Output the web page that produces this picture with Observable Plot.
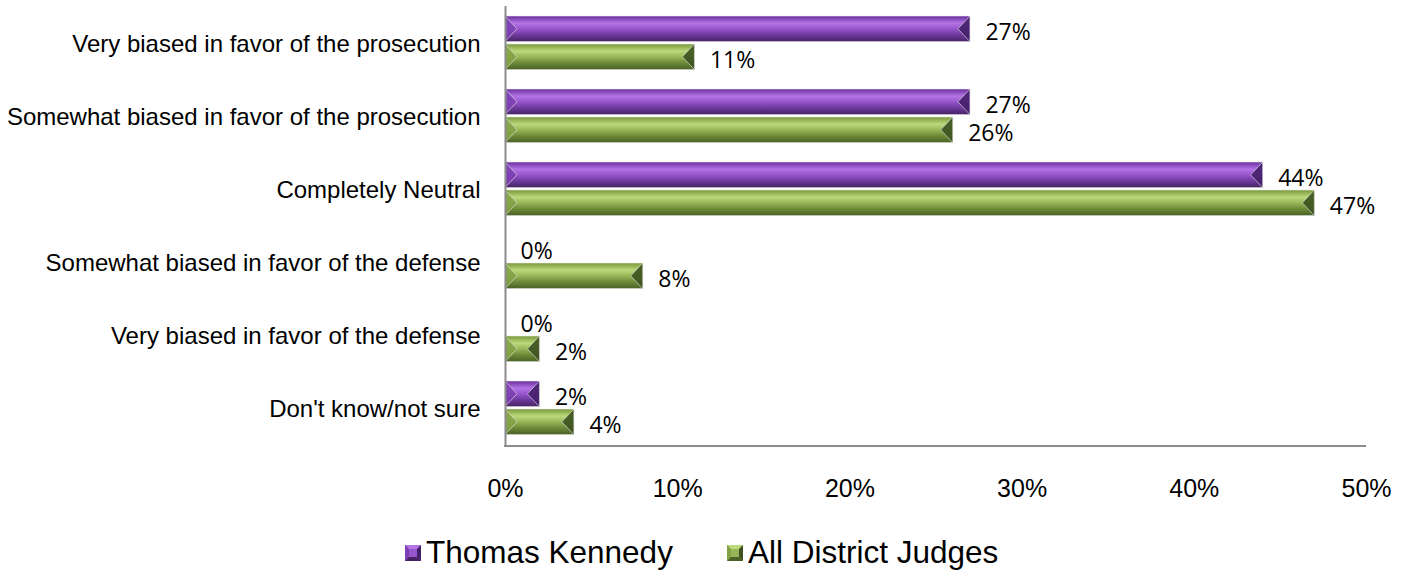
<!DOCTYPE html>
<html>
<head>
<meta charset="utf-8">
<script src="https://cdn.jsdelivr.net/npm/d3@7"></script>
<script src="https://cdn.jsdelivr.net/npm/@observablehq/plot@0.6"></script>
<style>
  html, body { margin: 0; padding: 0; background: #fff; }
  #wrap { position: relative; width: 1411px; height: 573px; overflow: hidden; }
  #legend { position: absolute; left: 405px; top: 534px; display: flex; align-items: center;
            font-family: "Liberation Sans", Arial, sans-serif; font-size: 31.5px; color: #000; white-space: nowrap; }
  #legend .item { display: flex; align-items: center; margin-right: 54px; }
  #legend svg { margin-right: 5px; }
</style>
</head>
<body>
<div id="wrap">
  <div id="chart"></div>
  <div id="legend"></div>
</div>
<script>
const categories = [
  "Very biased in favor of the prosecution",
  "Somewhat biased in favor of the prosecution",
  "Completely Neutral",
  "Somewhat biased in favor of the defense",
  "Very biased in favor of the defense",
  "Don't know/not sure"
];
const kennedy = [27, 27, 44, 0, 0, 2];
const allJudges = [11, 26, 47, 8, 2, 4];
const seriesNames = ["Thomas Kennedy", "All District Judges"];
const xTicks = [0, 10, 20, 30, 40, 50];

const palette = {
  "Thomas Kennedy": {
    grad: ["#6a2e9c", "#b474e6", "#9656cc", "#6b389a", "#462263"],
    left: "#7d40b4", right: "#44206a", id: "gP"
  },
  "All District Judges": {
    grad: ["#789838", "#bcd97c", "#98b658", "#6a8836", "#4a6026"],
    left: "#83a245", right: "#3e5320", id: "gG"
  }
};

const rows = [];
categories.forEach((c, i) => {
  rows.push({cat: c, series: seriesNames[0], value: kennedy[i]});
  rows.push({cat: c, series: seriesNames[1], value: allJudges[i]});
});

const height = 530;
const marginTop = 6;
const marginBottom = 84;
const band = (height - marginTop - marginBottom) / categories.length;

const insets = {
  "Thomas Kennedy": {top: 9, bottom: band - 35, dy: -11},
  "All District Judges": {top: 37, bottom: band - 63, dy: 17}
};

function bevelRender(series) {
  const p = palette[series];
  return function(index, scales, values, dimensions, context, next) {
    const g = next(index, scales, values, dimensions, context);
    const rects = Array.from(g.querySelectorAll("rect"));
    const ns = "http://www.w3.org/2000/svg";
    rects.forEach(r => {
      const x = +r.getAttribute("x"), y = +r.getAttribute("y");
      const w = +r.getAttribute("width"), h = +r.getAttribute("height");
      if (!(w > 1)) return;
      const b = Math.min(12, w / 2);
      const mid = y + h / 2;
      const lt = document.createElementNS(ns, "polygon");
      lt.setAttribute("points", `${x},${y} ${x + b},${mid} ${x},${y + h}`);
      lt.setAttribute("fill", p.left);
      lt.setAttribute("fill-opacity", "0.9");
      const rt = document.createElementNS(ns, "polygon");
      rt.setAttribute("points", `${x + w},${y} ${x + w - b},${mid} ${x + w},${y + h}`);
      rt.setAttribute("fill", p.right);
      rt.setAttribute("fill-opacity", "0.92");
      g.appendChild(lt);
      g.appendChild(rt);
    });
    return g;
  };
}

const marks = [];
seriesNames.forEach(s => {
  const data = rows.filter(d => d.series === s);
  marks.push(Plot.barX(data, {
    y: "cat", x: "value",
    fill: `url(#${palette[s].id})`,
    stroke: "#e8e8e8", strokeWidth: 0.6,
    insetTop: insets[s].top, insetBottom: insets[s].bottom,
    render: bevelRender(s)
  }));
  marks.push(Plot.text(data, {
    y: "cat", x: "value",
    text: d => d.value + "%",
    textAnchor: "start", dx: 15, dy: insets[s].dy,
    fontFamily: "'Open Sans', sans-serif", fontSize: 23, fill: "#000"
  }));
});

// axis lines
marks.push(Plot.ruleX([0], {stroke: "#8c8c8c", strokeWidth: 2}));
marks.push((index, scales, values, dimensions) => {
  const line = document.createElementNS("http://www.w3.org/2000/svg", "line");
  const yb = dimensions.height - dimensions.marginBottom;
  line.setAttribute("x1", scales.x(0) - 1);
  line.setAttribute("x2", scales.x(50));
  line.setAttribute("y1", yb);
  line.setAttribute("y2", yb);
  line.setAttribute("stroke", "#8c8c8c");
  line.setAttribute("stroke-width", 2);
  return line;
});

const chart = Plot.plot({
  width: 1411,
  height,
  marginLeft: 505,
  marginRight: 45,
  marginTop,
  marginBottom,
  style: {fontFamily: "'Liberation Sans', Arial, sans-serif", background: "#fff", color: "#000"},
  x: {domain: [0, 50], ticks: xTicks, tickFormat: d => d + "%", tickSize: 0, tickPadding: 33, label: null, fontSize: 25},
  y: {domain: categories, paddingInner: 0, paddingOuter: 0, tickSize: 0, tickPadding: 25, label: null},
  marks: [
    Plot.axisY({tickSize: 0, tickPadding: 25, fontSize: 24, label: null}),
    Plot.axisX({ticks: xTicks, tickFormat: d => d + "%", tickSize: 0, tickPadding: 33, fontSize: 25, label: null}),
    ...marks
  ]
});

// gradient defs
const ns = "http://www.w3.org/2000/svg";
const defs = document.createElementNS(ns, "defs");
Object.values(palette).forEach(p => {
  const lg = document.createElementNS(ns, "linearGradient");
  lg.setAttribute("id", p.id);
  lg.setAttribute("x1", "0"); lg.setAttribute("y1", "0");
  lg.setAttribute("x2", "0"); lg.setAttribute("y2", "1");
  const stops = [0, 0.28, 0.5, 0.75, 1];
  p.grad.forEach((c, i) => {
    const st = document.createElementNS(ns, "stop");
    st.setAttribute("offset", stops[i]);
    st.setAttribute("stop-color", c);
    lg.appendChild(st);
  });
  defs.appendChild(lg);
});
chart.insertBefore(defs, chart.firstChild);
document.getElementById("chart").appendChild(chart);

// legend
const legend = document.getElementById("legend");
seriesNames.forEach(s => {
  const p = palette[s];
  const item = document.createElement("div");
  item.className = "item";
  const n = 16;
  item.innerHTML = `<svg width="${n}" height="${n}" viewBox="0 0 ${n} ${n}">
    <rect x="0" y="0" width="${n}" height="${n}" fill="${p.grad[2]}"/>
    <polygon points="0,0 ${n},0 ${n/2},${n/2}" fill="${p.grad[1]}"/>
    <polygon points="0,0 ${n/2},${n/2} 0,${n}" fill="${p.left}"/>
    <polygon points="${n},0 ${n},${n} ${n/2},${n/2}" fill="${p.right}"/>
    <polygon points="0,${n} ${n},${n} ${n/2},${n/2}" fill="${p.grad[4]}"/>
    <rect x="4" y="4" width="${n-8}" height="${n-8}" fill="${p.grad[2]}"/>
  </svg><span>${s}</span>`;
  legend.appendChild(item);
});
</script>
</body>
</html>
